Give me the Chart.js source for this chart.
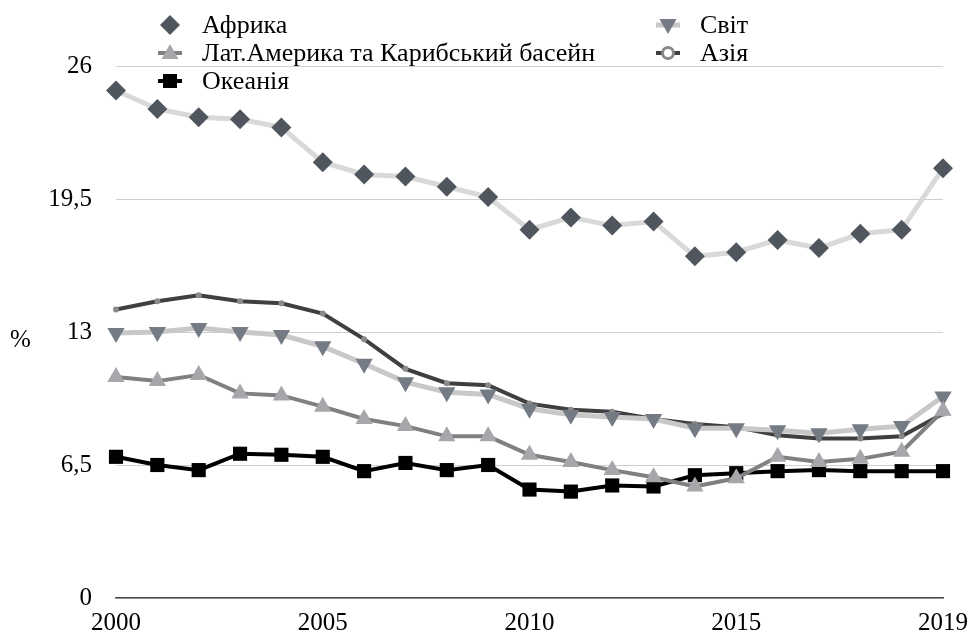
<!DOCTYPE html>
<html>
<head>
<meta charset="utf-8">
<script src="https://cdn.jsdelivr.net/npm/chart.js@4/dist/chart.umd.min.js"></script>
<style>
    html, body { margin: 0; padding: 0; background: #fff; }
</style>
</head>
<body>
<canvas id="chart" width="978" height="637"></canvas>
<script>
// Catégories (21 points, seuls certains libellés sont affichés)
const xLabels = ['2000', '', '', '', '', '2005', '', '', '', '', '2010', '', '', '', '', '2015', '', '', '', '', '2019'];
const yTicks = [0, 6.5, 13, 19.5, 26];

// Séries (%)
const afrika  = [24.8, 23.9, 23.5, 23.4, 23.0, 21.3, 20.7, 20.6, 20.1, 19.6, 18.0, 18.6, 18.2, 18.4, 16.7, 16.9, 17.5, 17.1, 17.8, 18.0, 21.0];
const latAm   = [10.8, 10.6, 10.9, 10.0, 9.9, 9.35, 8.75, 8.4, 7.9, 7.9, 7.0, 6.65, 6.25, 5.9, 5.45, 5.85, 6.9, 6.65, 6.8, 7.15, 9.15];
const okeania = [6.9, 6.5, 6.25, 7.05, 7.0, 6.9, 6.2, 6.6, 6.25, 6.5, 5.3, 5.2, 5.5, 5.45, 6.0, 6.1, 6.2, 6.25, 6.2, 6.2, 6.2];
const svit    = [12.95, 13.0, 13.2, 13.0, 12.85, 12.3, 11.45, 10.55, 10.05, 9.95, 9.25, 8.95, 8.85, 8.75, 8.3, 8.3, 8.2, 8.05, 8.25, 8.4, 9.85];
const aziya   = [14.1, 14.5, 14.8, 14.5, 14.4, 13.9, 12.65, 11.2, 10.5, 10.4, 9.5, 9.2, 9.1, 8.75, 8.5, 8.35, 7.95, 7.8, 7.8, 7.9, 9.0];

const FONT = 'Liberation Serif';

const series = [
    { label: 'Африка', data: afrika, line: '#d9d9d9', lw: 5, point: 'rectRot', rot: 0, r: 10, fill: '#50565e', order: 5, legend: [0, 0], legendLine: false },
    { label: 'Лат.Америка та Карибський басейн', data: latAm, line: '#808080', lw: 4, point: 'triangle', rot: 0, r: 10, fill: '#a5a7aa', order: 1, legend: [0, 1], legendLine: true },
    { label: 'Океанія', data: okeania, line: '#000000', lw: 4, point: 'rect', rot: 0, r: 10, fill: '#000000', order: 4, legend: [0, 2], legendLine: true },
    { label: 'Світ', data: svit, line: '#c8c8c8', lw: 5, point: 'triangle', rot: 180, r: 10, fill: '#747b84', order: 2, legend: [1, 0], legendLine: true },
    { label: 'Азія', data: aziya, line: '#3f3f3f', lw: 4, point: 'circle', rot: 0, r: 3, fill: '#8a8a8a', order: 3, legend: [1, 1], legendLine: true }
];

// Marqueur pour la légende
function drawMarker(ctx, s, x, y) {
    ctx.save();
    ctx.fillStyle = s.fill;
    ctx.beginPath();
    if (s.point === 'rectRot') {
        ctx.moveTo(x, y - 10); ctx.lineTo(x + 10, y); ctx.lineTo(x, y + 10); ctx.lineTo(x - 10, y);
        ctx.closePath(); ctx.fill();
    } else if (s.point === 'triangle') {
        const d = s.rot === 180 ? -1 : 1;
        ctx.moveTo(x, y - 9 * d); ctx.lineTo(x + 8.5, y + 6 * d); ctx.lineTo(x - 8.5, y + 6 * d);
        ctx.closePath(); ctx.fill();
    } else if (s.point === 'rect') {
        ctx.rect(x - 7, y - 7, 14, 14); ctx.fill();
    } else {
        ctx.arc(x, y, 5.5, 0, Math.PI * 2);
        ctx.fillStyle = '#fff'; ctx.fill();
        ctx.lineWidth = 3; ctx.strokeStyle = s.fill; ctx.stroke();
    }
    ctx.restore();
}

const legendPlugin = {
    id: 'customLegend',
    afterDraw(chart) {
        const ctx = chart.ctx;
        const colX = [170, 668];
        const rowY = [25, 53, 81];
        ctx.save();
        series.forEach(s => {
            const x = colX[s.legend[0]];
            const y = rowY[s.legend[1]];
            if (s.legendLine) {
                ctx.strokeStyle = s.line;
                ctx.lineWidth = s.lw;
                ctx.beginPath();
                ctx.moveTo(x - 12, y); ctx.lineTo(x + 12, y);
                ctx.stroke();
            }
            drawMarker(ctx, s, x, y);
            ctx.fillStyle = '#000';
            ctx.font = `26px "${FONT}"`;
            ctx.textBaseline = 'middle';
            ctx.textAlign = 'left';
            ctx.fillText(s.label, x + 32, y + 1);
        });
        // Titre de l'axe Y
        ctx.font = `25px "${FONT}"`;
        ctx.fillText('%', 10, 340);
        ctx.restore();
    }
};

new Chart(document.getElementById('chart').getContext('2d'), {
    type: 'line',
    data: {
        labels: xLabels,
        datasets: series.map(s => ({
            label: s.label,
            data: s.data,
            borderColor: s.line,
            borderWidth: s.lw,
            pointStyle: s.point,
            pointRotation: s.rot,
            pointRadius: s.r,
            pointBackgroundColor: s.fill,
            pointBorderColor: s.fill,
            pointBorderWidth: 0,
            tension: 0,
            fill: false,
            order: s.order
        }))
    },
    options: {
        responsive: false,
        animation: false,
        layout: { padding: { top: 66, right: 28, left: 0, bottom: 0 } },
        plugins: {
            legend: { display: false },
            tooltip: { enabled: false }
        },
        scales: {
            x: {
                offset: false,
                grid: { display: false, drawTicks: false },
                border: { display: true, color: '#4d4d4d', width: 1.5 },
                ticks: {
                    autoSkip: false,
                    maxRotation: 0,
                    padding: 10,
                    color: '#000',
                    font: { family: FONT, size: 25 }
                },
                afterFit: scale => { scale.height = 39; }
            },
            y: {
                min: 0,
                max: 26,
                afterBuildTicks: scale => { scale.ticks = yTicks.map(v => ({ value: v })); },
                grid: { color: '#cfcfcf', lineWidth: 1, drawTicks: false },
                border: { display: false },
                ticks: {
                    padding: 24,
                    color: '#000',
                    font: { family: FONT, size: 25 },
                    callback: v => String(v).replace('.', ',')
                },
                afterFit: scale => { scale.width = 116; }
            }
        }
    },
    plugins: [legendPlugin]
});
</script>
</body>
</html>
